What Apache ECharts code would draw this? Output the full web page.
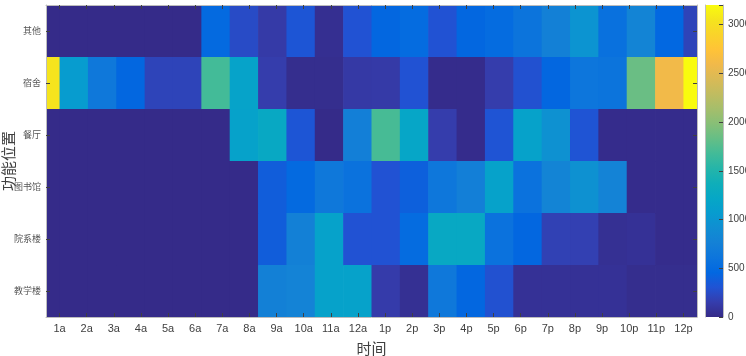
<!DOCTYPE html>
<html>
<head>
<meta charset="utf-8">
<script src="https://cdn.jsdelivr.net/npm/echarts@6/dist/echarts.min.js"></script>
<style>
  html, body { margin: 0; padding: 0; background: #fff; }
  #char { width: 746px; height: 356px; }
</style>
</head>
<body>
<div id="char"></div>
<script>
// 时间
var hours = ['1a', '2a', '3a', '4a', '5a', '6a', '7a', '8a', '9a', '10a', '11a', '12a',
    '1p', '2p', '3p', '4p', '5p', '6p', '7p', '8p', '9p', '10p', '11p', '12p'];
// 功能位置 (从上到下)
var places = ['其他', '宿舍', '餐厅', '图书馆', '院系楼', '教学楼'];

var qita      = [10, 10, 10, 10, 10, 10, 480, 250, 130, 320, 40, 300, 450, 500, 300, 450, 500, 600, 750, 980, 560, 800, 460, 200];
var sushe     = [3050, 1070, 650, 450, 200, 200, 1680, 1170, 150, 30, 30, 120, 130, 300, 20, 20, 150, 290, 450, 620, 600, 1850, 2600, 3200];
var canting   = [10, 10, 10, 10, 10, 10, 10, 1150, 1250, 320, 10, 740, 1700, 1200, 150, 20, 310, 1150, 950, 310, 20, 20, 20, 20];
var tushuguan = [10, 10, 10, 10, 10, 10, 10, 10, 380, 480, 650, 580, 300, 400, 640, 740, 1150, 580, 800, 950, 780, 20, 20, 20];
var yuanxi    = [10, 10, 10, 10, 10, 10, 10, 10, 380, 750, 1150, 300, 300, 500, 1250, 1250, 580, 450, 180, 170, 50, 60, 20, 20];
var jiaoxue   = [10, 10, 10, 10, 10, 10, 10, 10, 750, 780, 1150, 1150, 140, 50, 650, 450, 290, 60, 60, 60, 60, 30, 30, 30];

var cbTicks = [0, 500, 1000, 1500, 2000, 2500, 3000];
var cbMax = 3200;

var rows = [qita, sushe, canting, tushuguan, yuanxi, jiaoxue];

// parula
var parula = ['#352A87', '#353DAD', '#2053D4', '#0268E1', '#0D75DC', '#1481D6', '#108ED2', '#079CCF',
    '#06A7C6', '#0FAEB9', '#25B5A9', '#42BB98', '#65BE86', '#87BF77', '#A5BE6B', '#C0BC60',
    '#D9BA56', '#F1B94A', '#FFC337', '#FAD32A', '#F5E41D', '#F9FB0E'];

var n = hours.length;
var heatData = [];
for (var r = 0; r < rows.length; r++) {
    for (var c = 0; c < n; c++) {
        heatData.push([c, r, rows[r][c]]);
    }
}

// 原图的色块与刻度不对齐: 首尾两列只占半格, 中间各列略宽于刻度间距
function colEdges(c) {
    var step = (n - 1) / (n - 2);
    var x0 = c === 0 ? 0.5 : 1 + (c - 1) * step;
    var x1 = c === n - 1 ? n + 0.5 : 1 + c * step;
    return [x0, x1];
}

function renderCell(params, api) {
    var c = api.value(0), r = api.value(1);
    var e = colEdges(c);
    var p0 = api.coord([e[0], r]);
    var p1 = api.coord([e[1], r]);
    var h = api.size([0, 1])[1];
    return {
        type: 'rect',
        shape: { x: p0[0], y: p0[1] - h / 2, width: p1[0] - p0[0] + 0.7, height: h + 0.7 },
        style: { fill: api.visual('color') }
    };
}

var stops = parula.map(function (col, i) {
    return { offset: 1 - i / (parula.length - 1), color: col };
});

var tickStyle = { show: true, inside: true, length: 4, lineStyle: { color: '#404040' } };
var boxLine = { show: true, lineStyle: { color: '#BDBDBD', width: 1 } };

var myChart = echarts.init(document.getElementById('char'));
var option = {
    animation: false,
    grid: [
        { left: 46, top: 5, width: 651, height: 312, outerBoundsMode: 'none', containLabel: false },
        { left: 705, top: 5, width: 18, height: 312, outerBoundsMode: 'none', containLabel: false }
    ],
    visualMap: {
        show: false,
        seriesIndex: 0,
        dimension: 2,
        min: 0,
        max: cbMax,
        inRange: { color: parula }
    },
    xAxis: [
        {
            type: 'category', gridIndex: 0, data: hours, position: 'bottom', z: 5,
            axisLine: boxLine,
            axisTick: Object.assign({ alignWithLabel: true }, tickStyle),
            axisLabel: { color: '#404040', fontSize: 11, margin: 6, fontFamily: 'Liberation Sans, Arial' },
            name: '时间', nameLocation: 'middle', nameGap: 24, nameMoveOverlap: false,
            nameTextStyle: { color: '#404040', fontSize: 15, fontFamily: 'Noto Sans CJK SC' }
        },
        {
            type: 'category', gridIndex: 0, data: hours, position: 'top', z: 5,
            axisLine: boxLine,
            axisTick: Object.assign({ alignWithLabel: true }, tickStyle),
            axisLabel: { show: false }
        },
        { type: 'value', gridIndex: 0, min: 0.5, max: n + 0.5, show: false },
        { type: 'category', gridIndex: 1, data: [''], show: false }
    ],
    yAxis: [
        {
            type: 'category', gridIndex: 0, data: places, inverse: true, position: 'left', z: 5,
            axisLine: boxLine,
            axisTick: Object.assign({ alignWithLabel: true }, tickStyle),
            axisLabel: { color: '#555', fontSize: 9, margin: 5, fontFamily: 'Noto Sans CJK SC' },
            name: '功能位置', nameLocation: 'middle', nameGap: 30, nameRotate: 90, nameMoveOverlap: false,
            nameTextStyle: { color: '#404040', fontSize: 15, fontFamily: 'Noto Sans CJK SC' }
        },
        {
            type: 'category', gridIndex: 0, data: places, inverse: true, position: 'right', z: 5,
            axisLine: boxLine,
            axisTick: Object.assign({ alignWithLabel: true }, tickStyle),
            axisLabel: { show: false }
        },
        {
            type: 'value', gridIndex: 1, min: 0, max: cbMax, interval: 500, position: 'right', z: 5,
            axisLine: boxLine,
            axisTick: tickStyle,
            splitLine: { show: false },
            axisLabel: {
                color: '#404040', fontSize: 10, margin: 5, fontFamily: 'Liberation Sans, Arial',
                formatter: function (val) { return cbTicks.indexOf(val) >= 0 ? val : ''; }
            }
        },
        {
            type: 'value', gridIndex: 1, min: 0, max: cbMax, position: 'left', z: 5,
            axisLine: boxLine, axisTick: { show: false }, axisLabel: { show: false }, splitLine: { show: false }
        }
    ],
    series: [
        {
            type: 'custom',
            xAxisIndex: 2,
            yAxisIndex: 0,
            data: heatData,
            renderItem: renderCell,
            silent: true,
            clip: true
        },
        {
            type: 'bar',
            xAxisIndex: 3,
            yAxisIndex: 2,
            data: [cbMax],
            barWidth: '100%',
            silent: true,
            itemStyle: { color: new echarts.graphic.LinearGradient(0, 0, 0, 1, stops) }
        }
    ]
};
myChart.setOption(option);
</script>
</body>
</html>
